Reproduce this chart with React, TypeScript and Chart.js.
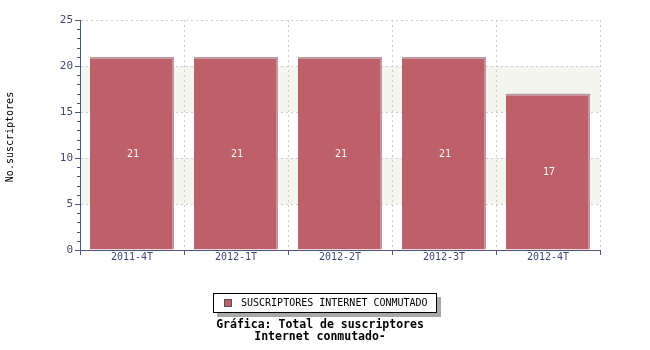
import React, { useEffect, useRef } from 'react';
import { Chart, registerables } from 'chart.js';
Chart.register(...registerables);

const categories = ['2011-4T', '2012-1T', '2012-2T', '2012-3T', '2012-4T'];
const seriesLabel = 'SUSCRIPTORES INTERNET CONMUTADO';
const seriesValues = [21, 21, 21, 21, 17];
const yMin = 0;
const yMax = 25;
const yStep = 5;
const yMinorStep = 1;
const bandRanges = [[5, 10], [15, 20]];
const yAxisTitle = 'No.suscriptores';
const chartTitle = ['Gráfica: Total de suscriptores', 'Internet conmutado-'];

const MONO = '"DejaVu Sans Mono", monospace';
const AXIS = '#4a5680';
const TICK_TEXT = '#3d4a78';
const BAR = '#bd606a';
const BAR_EDGE = '#b9979c';
const GRID = '#cccccc';
const BAND = '#f5f5f0';

const decorPlugin = {
  id: 'decor',
  beforeDraw(chart: any) {
    const { ctx, chartArea, scales } = chart;
    const y = scales.y;
    ctx.save();
    ctx.fillStyle = '#ffffff';
    ctx.fillRect(0, 0, chart.width, chart.height);
    ctx.fillStyle = BAND;
    for (const [a, b] of bandRanges) {
      const y1 = y.getPixelForValue(b);
      const y2 = y.getPixelForValue(a);
      ctx.fillRect(chartArea.left, y1, chartArea.right - chartArea.left, y2 - y1);
    }
    ctx.restore();
  },
  afterDraw(chart: any) {
    const { ctx, chartArea, scales } = chart;
    const y = scales.y;
    const x = scales.x;
    ctx.save();
    ctx.strokeStyle = AXIS;
    ctx.lineWidth = 1;
    for (let v = yMin; v <= yMax; v += yMinorStep) {
      const py = Math.round(y.getPixelForValue(v)) + 0.5;
      const len = v % yStep === 0 ? 5 : 3;
      ctx.beginPath();
      ctx.moveTo(chartArea.left - len, py);
      ctx.lineTo(chartArea.left, py);
      ctx.stroke();
    }
    for (let i = 0; i <= categories.length; i++) {
      const px = Math.round(x.getPixelForValue(i - 0.5)) + 0.5;
      ctx.beginPath();
      ctx.moveTo(px, chartArea.bottom);
      ctx.lineTo(px, chartArea.bottom + 5);
      ctx.stroke();
    }
    ctx.fillStyle = '#000000';
    ctx.font = `10px ${MONO}`;
    ctx.textAlign = 'center';
    ctx.textBaseline = 'middle';
    ctx.translate(10, (chartArea.top + chartArea.bottom) / 2 + 2);
    ctx.rotate(-Math.PI / 2);
    ctx.fillText(yAxisTitle, 0, 0);
    ctx.restore();

    ctx.save();
    const meta = chart.getDatasetMeta(0);
    ctx.fillStyle = '#f4f4f4';
    ctx.font = `10px ${MONO}`;
    ctx.textAlign = 'center';
    ctx.textBaseline = 'middle';
    meta.data.forEach((bar: any, i: number) => {
      ctx.fillText(String(seriesValues[i]), bar.x + 1, (bar.y + bar.base) / 2 + 1);
    });
    ctx.restore();

    ctx.save();
    const lx = 213, ly = 293, lw = 224, lh = 20;
    ctx.fillStyle = '#a8a8a8';
    ctx.fillRect(lx + 4, ly + 4, lw, lh);
    ctx.fillStyle = '#ffffff';
    ctx.fillRect(lx, ly, lw, lh);
    ctx.strokeStyle = '#000000';
    ctx.lineWidth = 1;
    ctx.strokeRect(lx + 0.5, ly + 0.5, lw - 1, lh - 1);
    ctx.fillStyle = BAR;
    ctx.fillRect(224, 299, 8, 8);
    ctx.strokeStyle = '#555555';
    ctx.strokeRect(224.5, 299.5, 7, 7);
    ctx.fillStyle = '#000000';
    ctx.font = `10px ${MONO}`;
    ctx.textAlign = 'left';
    ctx.textBaseline = 'middle';
    ctx.fillText(seriesLabel, 241, 303.5);
    ctx.font = `bold 11.5px ${MONO}`;
    ctx.textAlign = 'center';
    ctx.fillText(chartTitle[0], 320, 325);
    ctx.fillText(chartTitle[1], 320, 337);
    ctx.restore();
  },
};

export default function App() {
  const ref = useRef<HTMLCanvasElement>(null);
  useEffect(() => {
    if (!ref.current) return;
    const chart = new Chart(ref.current, {
      type: 'bar',
      data: {
        labels: categories,
        datasets: [
          {
            label: seriesLabel,
            data: seriesValues,
            backgroundColor: BAR,
            borderColor: BAR_EDGE,
            borderWidth: { top: 2, right: 2, left: 0, bottom: 0 },
            borderSkipped: false,
            barPercentage: 0.81,
            categoryPercentage: 1,
          },
        ],
      },
      options: {
        responsive: false,
        animation: false,
        layout: { padding: { left: 0, right: 50, top: 20, bottom: 80 } },
        plugins: {
          legend: { display: false },
          title: { display: false },
          tooltip: { enabled: false },
        },
        scales: {
          x: {
            type: 'category',
            offset: true,
            grid: {
              offset: true,
              color: GRID,
              drawTicks: false,
            },
            border: { display: true, color: AXIS, width: 1, dash: [2, 3] },
            ticks: {
              font: { family: MONO, size: 10 },
              color: TICK_TEXT,
              padding: 1,
            },
            afterFit: (s: any) => {
              s.height = 20;
            },
          },
          y: {
            min: yMin,
            max: yMax,
            grid: {
              color: (c: any) => (c.tick && c.tick.value === yMin ? 'rgba(0,0,0,0)' : GRID),
              drawTicks: false,
            },
            border: { display: true, color: AXIS, width: 1, dash: [2, 3] },
            ticks: {
              stepSize: yStep,
              font: { family: MONO, size: 11 },
              color: TICK_TEXT,
              padding: 7,
            },
            afterFit: (s: any) => {
              s.width = 80;
            },
          },
        },
      },
      plugins: [decorPlugin],
    });
    return () => chart.destroy();
  }, []);
  return (
    <div style={{ position: 'fixed', left: 0, top: 0, width: 650, height: 350, background: '#fff' }}>
      <canvas ref={ref} width={650} height={350} />
    </div>
  );
}
